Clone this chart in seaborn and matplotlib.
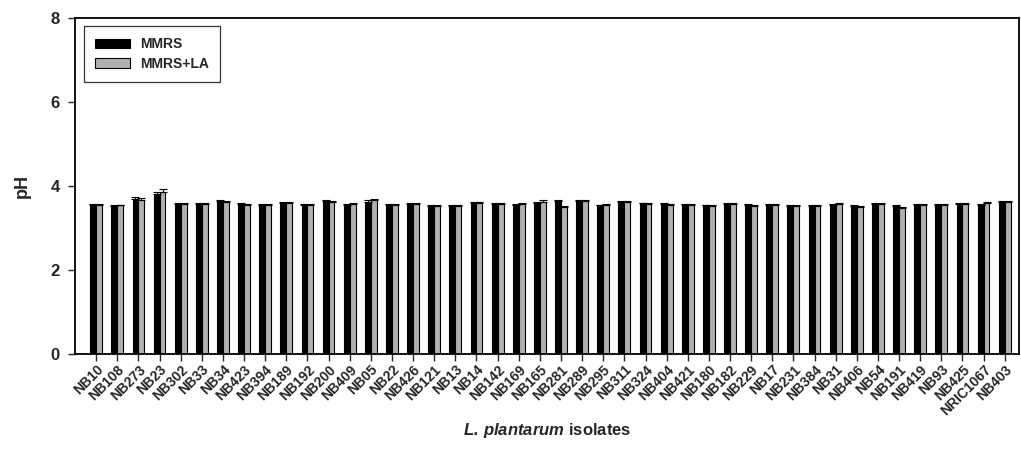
import numpy as np
import pandas as pd
import matplotlib
matplotlib.use("Agg")
import matplotlib.pyplot as plt
import seaborn as sns

isolates = ["NB10", "NB108", "NB273", "NB23", "NB302", "NB33", "NB34", "NB423", "NB394",
            "NB189", "NB192", "NB200", "NB409", "NB05", "NB22", "NB426", "NB121", "NB13",
            "NB14", "NB142", "NB169", "NB165", "NB281", "NB289", "NB295", "NB311", "NB324",
            "NB404", "NB421", "NB180", "NB182", "NB229", "NB17", "NB231", "NB384", "NB31",
            "NB406", "NB54", "NB191", "NB419", "NB93", "NB425", "NRIC1067", "NB403"]

ph_mmrs = [3.56, 3.52, 3.70, 3.82, 3.57, 3.57, 3.64, 3.58, 3.55, 3.60, 3.56,
           3.65, 3.56, 3.63, 3.55, 3.58, 3.53, 3.52, 3.61, 3.58, 3.55, 3.60,
           3.65, 3.64, 3.54, 3.62, 3.59, 3.57, 3.56, 3.54, 3.57, 3.55, 3.56,
           3.53, 3.52, 3.55, 3.52, 3.57, 3.53, 3.56, 3.56, 3.58, 3.55, 3.62]

ph_mmrs_la = [3.55, 3.54, 3.68, 3.87, 3.58, 3.57, 3.63, 3.56, 3.56, 3.60, 3.55,
              3.62, 3.58, 3.66, 3.55, 3.58, 3.53, 3.52, 3.60, 3.57, 3.57, 3.63,
              3.50, 3.64, 3.56, 3.62, 3.58, 3.56, 3.55, 3.53, 3.58, 3.53, 3.56,
              3.53, 3.52, 3.58, 3.51, 3.57, 3.49, 3.56, 3.56, 3.58, 3.60, 3.62]

err_mmrs = [0.02, 0.02, 0.03, 0.04, 0.02, 0.02, 0.02, 0.02, 0.02, 0.02, 0.02,
            0.02, 0.02, 0.03, 0.02, 0.02, 0.02, 0.02, 0.02, 0.02, 0.02, 0.02,
            0.02, 0.02, 0.02, 0.02, 0.02, 0.02, 0.02, 0.02, 0.02, 0.02, 0.02,
            0.02, 0.02, 0.02, 0.02, 0.02, 0.02, 0.02, 0.02, 0.02, 0.02, 0.02]

err_mmrs_la = [0.02, 0.02, 0.03, 0.06, 0.02, 0.02, 0.02, 0.02, 0.02, 0.02, 0.02,
               0.02, 0.02, 0.04, 0.02, 0.02, 0.02, 0.02, 0.02, 0.02, 0.02, 0.03,
               0.02, 0.03, 0.02, 0.02, 0.02, 0.02, 0.02, 0.02, 0.02, 0.02, 0.02,
               0.02, 0.02, 0.02, 0.02, 0.02, 0.02, 0.02, 0.02, 0.02, 0.02, 0.02]

media = ["MMRS", "MMRS+LA"]

df = pd.DataFrame({
    "isolate": isolates * 2,
    "pH": ph_mmrs + ph_mmrs_la,
    "medium": [media[0]] * len(isolates) + [media[1]] * len(isolates),
})

sns.set_style("ticks")
plt.rcParams["font.family"] = ["Liberation Sans", "DejaVu Sans"]
plt.rcParams["font.weight"] = "bold"
plt.rcParams["mathtext.fontset"] = "custom"
plt.rcParams["mathtext.bfit"] = "Liberation Sans:bold:italic"
plt.rcParams["mathtext.it"] = "Liberation Sans:italic"
plt.rcParams["mathtext.bf"] = "Liberation Sans:bold"

fig = plt.figure(figsize=(10.21, 4.63), dpi=100)
ax = fig.add_axes([0.0735, 0.235, 0.925, 0.726])

sns.barplot(data=df, x="isolate", y="pH", hue="medium", order=isolates,
            hue_order=media, palette={"MMRS": "#000000", "MMRS+LA": "#b0b0b0"},
            width=0.56, edgecolor="black", linewidth=0.8, errorbar=None,
            saturation=1, ax=ax)

# upward error bars with caps on each bar
for container, errs in zip(ax.containers, [err_mmrs, err_mmrs_la]):
    xs = [b.get_x() + b.get_width() / 2 for b in container]
    hs = [b.get_height() for b in container]
    ax.errorbar(xs, hs, yerr=[np.zeros(len(errs)), errs], fmt="none",
                ecolor="black", elinewidth=0.8, capsize=3, capthick=0.8)

ax.set_ylim(0, 8)
ax.set_yticks([0, 2, 4, 6, 8])
ax.set_xlim(-1, len(isolates) - 0.3)

for side in ["top", "right", "left", "bottom"]:
    ax.spines[side].set_visible(True)
    ax.spines[side].set_linewidth(1.3)
    ax.spines[side].set_color("black")

ax.tick_params(axis="y", labelsize=12, length=5, width=1, direction="out", pad=6)
ax.tick_params(axis="x", labelsize=10, length=5, width=1, direction="out", pad=1)
plt.setp(ax.get_xticklabels(), rotation=45, ha="right", rotation_mode="anchor",
         fontweight="bold")
plt.setp(ax.get_yticklabels(), fontweight="bold")

ax.set_ylabel("pH", fontsize=13, fontweight="bold")
ax.yaxis.set_label_coords(-0.047, 0.5)
ax.set_xlabel(r"$\mathbfit{L.}\,\mathbfit{plantarum}$ isolates", fontsize=12,
              fontweight="bold")
ax.xaxis.set_label_coords(0.5, -0.2)

leg = ax.legend(loc="upper left", bbox_to_anchor=(0.0095, 0.976), borderaxespad=0,
                fontsize=10, frameon=True, fancybox=False, edgecolor="black",
                handlelength=2.5, handleheight=0.7, borderpad=0.8,
                labelspacing=0.38, handletextpad=0.75)
leg.get_frame().set_linewidth(0.9)
for t in leg.get_texts():
    t.set_fontweight("bold")

fig.savefig("out.png", dpi=100)
